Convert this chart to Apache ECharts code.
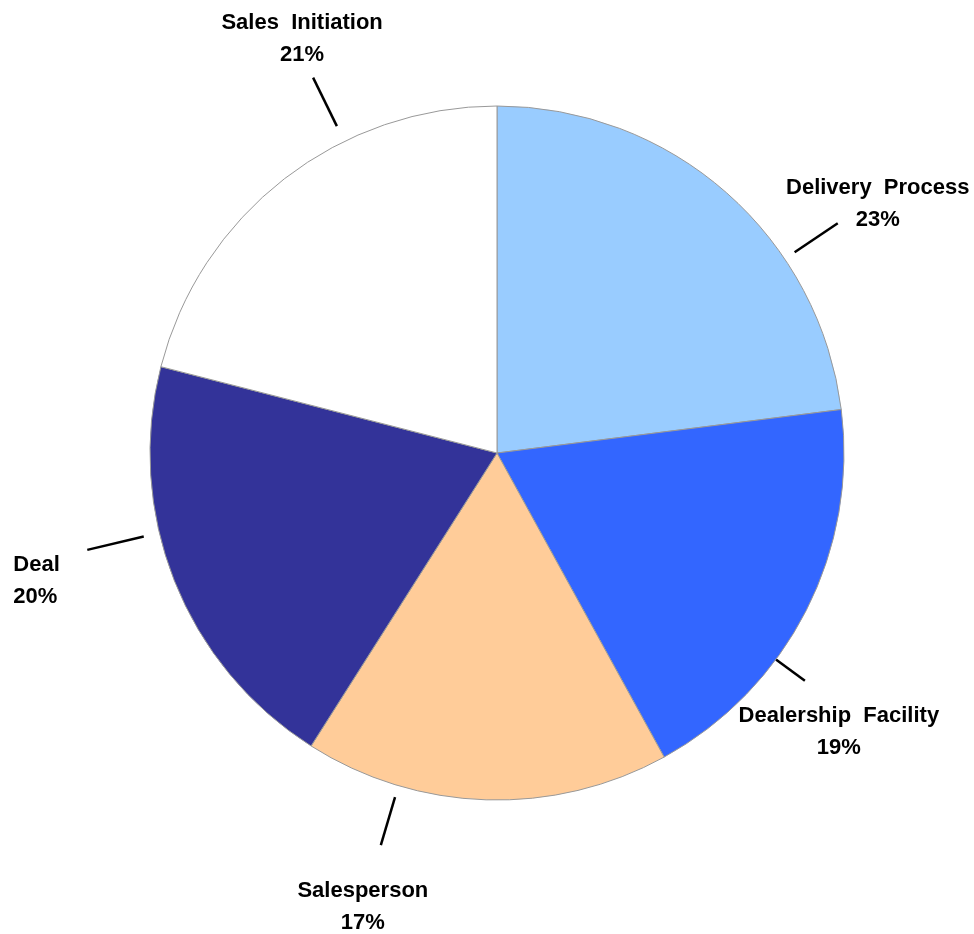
<!DOCTYPE html>
<html><head><meta charset="utf-8">
<script src="https://cdn.jsdelivr.net/npm/echarts@6/dist/echarts.min.js"></script>
<style>html,body{margin:0;padding:0;background:#fff}#c{width:974px;height:934px}</style>
</head><body><div id="c"></div>
<script>
// ---- data ----
const categories = ['Delivery  Process', 'Dealership  Facility', 'Salesperson', 'Deal', 'Sales  Initiation'];
const shares = [23, 19, 17, 20, 21];

// ---- style ----
const colors = ['#99CCFF', '#3366FF', '#FFCC99', '#333399', '#FFFFFF'];
const lineShift = [14.6, 9.5, 14.7, 8.3, 11.7];   // leader direction, degrees clockwise from slice mid-angle
const lineStart = [359, 347, 359, 363, 364];      // leader start radius
const lineLen = [52, 36, 50, 58, 54];             // leader length
const labelOffset = [[40, -19], [34, 51], [-18, 62], [-74, 31], [-11, -39]];
const labelAlign = ['center', 'center', 'center', 'left', 'center'];
const CENTER = [497, 453];
const RADIUS = 347;
const FONT = "'Liberation Sans', Arial, sans-serif";

const chart = echarts.init(document.getElementById('c'), null, {renderer: 'canvas'});

const series = [{
  type: 'pie',
  center: CENTER,
  radius: RADIUS,
  startAngle: 90,
  clockwise: true,
  silent: true,
  label: {show: false},
  labelLine: {show: false},
  itemStyle: {borderColor: '#999999', borderWidth: 1},
  data: categories.map((n, i) => ({name: n, value: shares[i], itemStyle: {color: colors[i]}}))
}];

categories.forEach((_, k) => {
  series.push({
    type: 'pie',
    center: CENTER,
    radius: lineStart[k],
    startAngle: 90 - lineShift[k],
    clockwise: true,
    silent: true,
    avoidLabelOverlap: false,
    itemStyle: {color: 'rgba(0,0,0,0)', borderWidth: 0},
    label: {
      position: 'outside',
      formatter: p => p.name + '\n' + p.value + '%',
      fontFamily: FONT, fontSize: 22, fontWeight: 'bold', color: '#000',
      lineHeight: 32, width: 240, align: 'center'
    },
    labelLine: {show: true, length: lineLen[k], length2: 0, smooth: false,
      lineStyle: {color: '#000', width: 2.5}},
    labelLayout: function (p) {
      const pts = p.labelLinePoints;
      if (!pts) return {};
      const end = pts[pts.length - 1];
      return {
        x: end[0] + labelOffset[k][0],
        y: end[1] + labelOffset[k][1],
        align: labelAlign[k],
        verticalAlign: 'middle',
        labelLinePoints: pts
      };
    },
    data: categories.map((n, i) => ({
      name: n, value: shares[i],
      label: {show: i === k},
      labelLine: {show: i === k}
    }))
  });
});

chart.setOption({
  animation: false,
  backgroundColor: '#ffffff',
  series: series
});
</script>
</body></html>
